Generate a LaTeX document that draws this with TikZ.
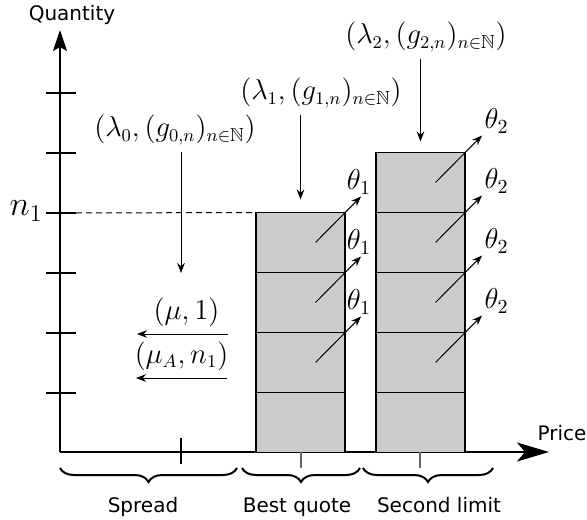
\documentclass[tikz,border=0pt]{standalone}
\usepackage{amsmath, amssymb}
\usepackage{fontspec}
\setsansfont{DejaVu Sans}
\usetikzlibrary{arrows.meta, decorations.pathreplacing, calc}
\definecolor{bookgray}{RGB}{204,204,204}

\tikzset{
  axis/.style={line width=1pt},
  lot/.style={draw, line width=0.8pt, fill=bookgray, minimum width=44.5pt, minimum height=30pt, inner sep=0pt, outer sep=0pt},
  flow/.style={-{Stealth[length=5pt,width=3.8pt]}, line width=0.5pt},
  tickmark/.style={line width=0.6pt},
  bracket/.style={line width=1pt, decorate, decoration={brace, mirror, amplitude=7pt}},
  lbl/.style={font=\sffamily},
  mlbl/.style={font=\fontsize{13.5}{16}\selectfont},
  thlbl/.style={font=\fontsize{14.6}{17}\selectfont},
}

\begin{document}
\begin{tikzpicture}[x=0.5pt, y=-0.5pt]
  \useasboundingbox (0,0) rectangle (587,519);

  % axes
  \coordinate (O) at (60,452);
  \coordinate (ytop) at (60,30);
  \coordinate (xend) at (549,452);
  \draw[axis, -{Stealth[length=10.5pt,width=7pt,inset=2pt]}] (O) -- (ytop);
  \draw[axis, -{Stealth[length=16pt,width=9.5pt,inset=4pt]}] (O) -- (xend);
  \node[lbl, anchor=base] (qty) at (72,21) {Quantity};
  \node[lbl, anchor=base] (price) at (562,440) {Price};

  \foreach \y in {93,153,...,393}
    \draw[tickmark] (46,\y) -- (76,\y);
  \coordinate (n1tick) at (76,213);
  \node[font=\fontsize{16.5}{19}\selectfont, anchor=east, inner sep=1pt] (n1) at (45,211) {$n_1$};

  % best quote
  \foreach \i/\y in {1/422.5,2/362.5,3/302.5,4/242.5}
    \node[lot] (b\i) at (300.5,\y) {};
  % second limit
  \foreach \i/\y in {1/422.5,2/362.5,3/302.5,4/242.5,5/182.5}
    \node[lot] (s\i) at (420.5,\y) {};

  \draw[line width=0.5pt, dash pattern=on 3pt off 2pt] (n1tick) -- (b4.north west);

  \foreach \i in {2,3,4}
    \draw[flow] ($(b\i.center)+(15,0)$) -- ($(b\i.north east)+(16,-16)$)
      node[thlbl, anchor=south, inner sep=1pt, xshift=-1pt] {$\theta_1$};
  \foreach \i in {2,...,5}
    \draw[flow] ($(s\i.center)+(15,0)$) -- ($(s\i.north east)+(17,-17)$)
      node[thlbl, anchor=south west, inner sep=1pt] {$\theta_2$};

  % arrival intensities
  \node[mlbl] (l0) at (175,130) {$(\lambda_0,(g_{0,n})_{n\in\mathbb{N}})$};
  \node[mlbl] (l1) at (321,93) {$(\lambda_1,(g_{1,n})_{n\in\mathbb{N}})$};
  \node[mlbl] (l2) at (426,37) {$(\lambda_2,(g_{2,n})_{n\in\mathbb{N}})$};
  \coordinate (l0e) at (181,273);
  \draw[flow] (l0.south -| l0e) -- (l0e);
  \draw[flow, shorten >=6.5pt] (l1.south -| b4.north) -- (b4.north);
  \draw[flow, shorten >=5.5pt] (l2.south -| s5.north) -- (s5.north);

  % market orders
  \coordinate (m1s) at (228,334);
  \coordinate (m1e) at (137,334);
  \coordinate (m2s) at (227,378);
  \coordinate (m2e) at (136,378);
  \draw[flow] (m1s) -- (m1e) node[midway, above, mlbl, xshift=2pt] {$(\mu,1)$};
  \draw[flow] (m2s) -- (m2e) node[midway, above, mlbl] {$(\mu_A,n_1)$};

  % price ticks and braces
  \draw[tickmark] (181,438) -- (181,464);
  \draw[tickmark, black!60] (301,452) -- (301,468);
  \draw[tickmark, black!60] (420,452) -- (420,468);
  \draw[bracket] (60,468) -- (237,468);
  \draw[bracket] (242,468) -- (360,468);
  \draw[bracket] (363,468) -- (493,468);
  \node[lbl, anchor=base] (spread) at (143,512) {Spread};
  \node[lbl, anchor=base] (best) at (297,512) {Best quote};
  \node[lbl, anchor=base] (second) at (439,512) {Second limit};
\end{tikzpicture}
\end{document}
